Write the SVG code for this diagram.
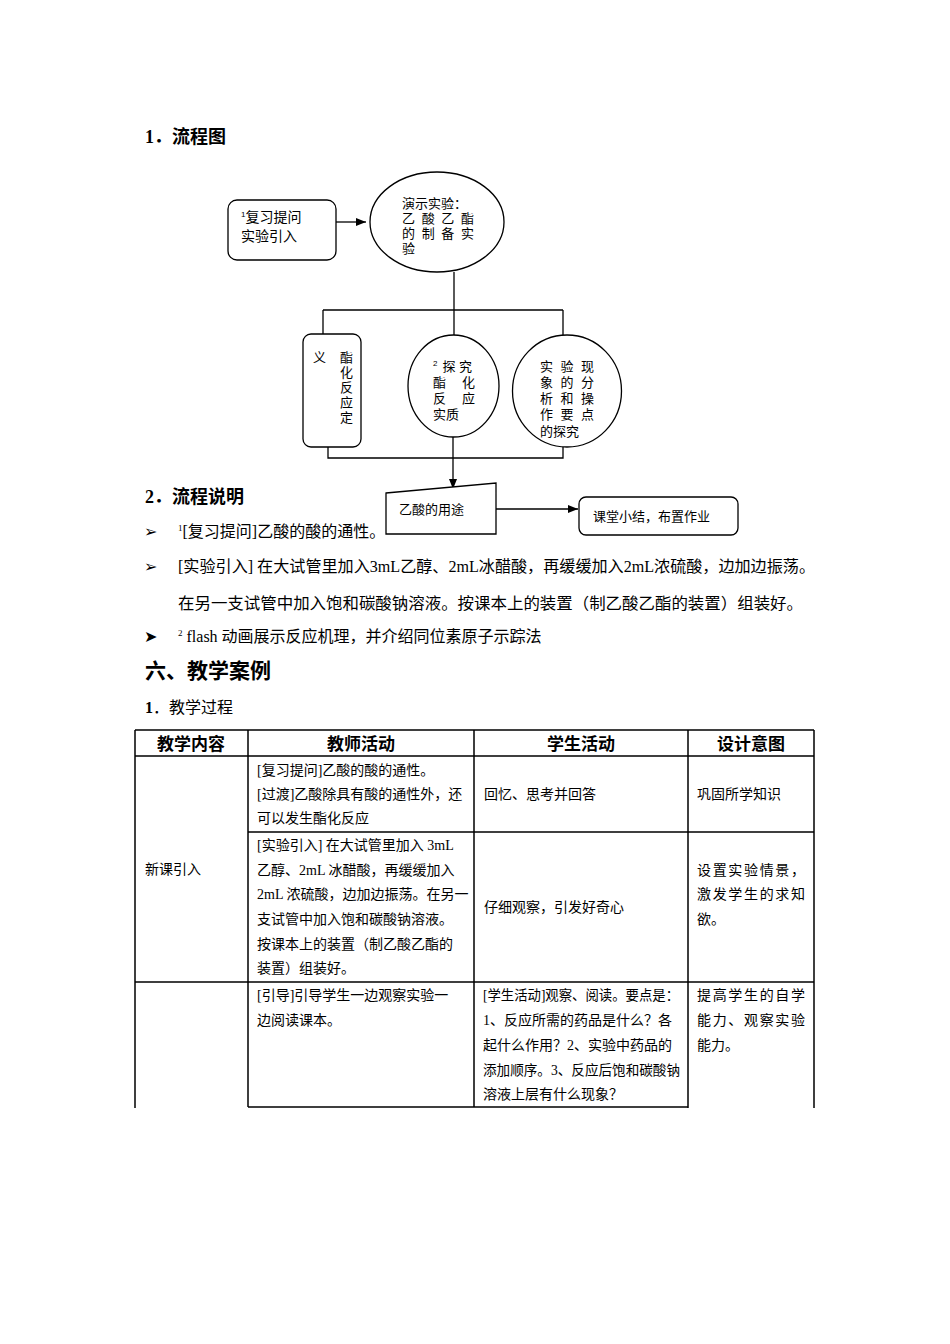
<svg xmlns="http://www.w3.org/2000/svg" width="950" height="1344" viewBox="0 0 950 1344">
<style>
.t{font-family:"Liberation Serif","Noto Sans CJK SC",serif;fill:#000}
.s{font-family:"Liberation Sans","Noto Sans CJK SC",sans-serif;fill:#000}
.b{font-weight:bold}
.f13{font-size:13px}
.f14{font-size:14px}
.f16{font-size:16px}
.shape{fill:#fff;stroke:#000;stroke-width:1.3}
.con{fill:none;stroke:#000;stroke-width:1.3}
.grid{stroke:#000;stroke-width:1.5;fill:none}
.bul{font-family:"DejaVu Sans",sans-serif;font-size:16px}
</style>
<defs>
<marker id="ah" markerWidth="10" markerHeight="8" refX="10" refY="4" orient="auto" markerUnits="userSpaceOnUse">
<path d="M0,0 L10,4 L0,8 Z" fill="#000"/>
</marker>
</defs>
<rect width="950" height="1344" fill="#fff"/>

<text class="t b" x="145" y="143" font-size="18">1．流程图</text>

<g id="connectors">
<path class="con" d="M336,222 H366" marker-end="url(#ah)"/>
<path class="con" d="M454,272 V336"/>
<path class="con" d="M323,310 H563"/>
<path class="con" d="M323,310 V334"/>
<path class="con" d="M563,310 V335"/>
<path class="con" d="M328,447 V458 H563 V447"/>
<path class="con" d="M453,437 V489" marker-end="url(#ah)"/>
<path class="con" d="M496,509 H578" marker-end="url(#ah)"/>
</g>

<g id="n1">
<rect class="shape" x="228" y="200" width="108" height="60" rx="9"/>
<text class="s f14" x="241" y="222"><tspan font-size="8" dy="-5">1</tspan><tspan dy="5">复习提问</tspan></text>
<text class="s f14" x="241" y="241">实验引入</text>
</g>

<g id="n2">
<ellipse class="shape" cx="437" cy="222" rx="67" ry="50"/>
<text class="s f13" x="402" y="208">演示实验：</text>
<text class="s f13" x="402" y="223" textLength="72" lengthAdjust="spacing">乙 酸 乙 酯</text>
<text class="s f13" x="402" y="238" textLength="72" lengthAdjust="spacing">的 制 备 实</text>
<text class="s f13" x="402" y="253">验</text>
</g>

<g id="n3">
<rect class="shape" x="303" y="334" width="58" height="113" rx="8"/>
<text class="s f13" x="313" y="362">义</text>
<text class="s f13" x="340" y="362">酯</text>
<text class="s f13" x="340" y="377">化</text>
<text class="s f13" x="340" y="392">反</text>
<text class="s f13" x="340" y="407">应</text>
<text class="s f13" x="340" y="422">定</text>
</g>

<g id="n4">
<ellipse class="shape" cx="453.5" cy="386" rx="45.5" ry="51"/>
<text class="s f13" x="433" y="371"><tspan font-size="8" dy="-5">2</tspan><tspan dy="5" dx="5">探  究</tspan></text>
<text class="s f13" x="433" y="387" textLength="42" lengthAdjust="spacing">酯  化</text>
<text class="s f13" x="433" y="403" textLength="42" lengthAdjust="spacing">反  应</text>
<text class="s f13" x="433" y="419">实质</text>
</g>

<g id="n5">
<ellipse class="shape" cx="567" cy="391" rx="54.5" ry="56"/>
<text class="s f13" x="540" y="371" textLength="54" lengthAdjust="spacing">实 验 现</text>
<text class="s f13" x="540" y="387" textLength="54" lengthAdjust="spacing">象 的 分</text>
<text class="s f13" x="540" y="403" textLength="54" lengthAdjust="spacing">析 和 操</text>
<text class="s f13" x="540" y="419" textLength="54" lengthAdjust="spacing">作 要 点</text>
<text class="s f13" x="540" y="436">的探究</text>
</g>

<text class="t b" x="145" y="503" font-size="18">2．流程说明</text>

<text class="bul" x="144" y="537">➢</text>
<text class="t f16" x="178" y="537"><tspan font-size="9" dy="-6">1</tspan><tspan dy="6">[复习提问]乙酸的酸的通性。</tspan></text>

<g id="n6">
<polygon class="shape" points="386,493 496,483 496,534 386,534"/>
<text class="s f13" x="399" y="514">乙酸的用途</text>
</g>

<g id="n7">
<rect class="shape" x="579" y="497" width="159" height="38" rx="7"/>
<text class="s f13" x="593" y="521">课堂小结，布置作业</text>
</g>

<text class="bul" x="144" y="572">➢</text>
<text class="t f16" x="178" y="572" textLength="637" lengthAdjust="spacingAndGlyphs">[实验引入] 在大试管里加入3mL乙醇、2mL冰醋酸，再缓缓加入2mL浓硫酸，边加边振荡。</text>
<text class="t f16" x="178" y="609" textLength="625" lengthAdjust="spacingAndGlyphs">在另一支试管中加入饱和碳酸钠溶液。按课本上的装置（制乙酸乙酯的装置）组装好。</text>
<text class="bul" x="144" y="642" font-size="17">➤</text>
<text class="t f16" x="178" y="642"><tspan font-size="9" dy="-6">2</tspan><tspan dy="6"> flash 动画展示反应机理，并介绍同位素原子示踪法</tspan></text>

<text class="t b" x="145" y="678" font-size="21">六、教学案例</text>
<text class="t f16" x="145" y="713"><tspan font-weight="bold">1</tspan>．教学过程</text>

<g id="table">
<path class="grid" d="M135,730 H814 M135,756 H814 M248,832 H814 M135,982 H814 M248,1107 H688"/>
<path class="grid" d="M135,730 V1108 M814,730 V1108 M248,730 V1107 M474,730 V1107 M688,730 V1108"/>
<g class="t b" font-size="17" text-anchor="middle">
<text x="191" y="750">教学内容</text>
<text x="361" y="750">教师活动</text>
<text x="581" y="750">学生活动</text>
<text x="751" y="750">设计意图</text>
</g>
<g class="t f14">
<text x="257" y="775">[复习提问]乙酸的酸的通性。</text>
<text x="257" y="799">[过渡]乙酸除具有酸的通性外，还</text>
<text x="257" y="823">可以发生酯化反应</text>
<text x="484" y="799">回忆、思考并回答</text>
<text x="697" y="799">巩固所学知识</text>

<text x="145" y="874">新课引入</text>
<text x="257" y="850">[实验引入] 在大试管里加入 3mL</text>
<text x="257" y="875">乙醇、2mL 冰醋酸，再缓缓加入</text>
<text x="257" y="899">2mL 浓硫酸，边加边振荡。在另一</text>
<text x="257" y="924">支试管中加入饱和碳酸钠溶液。</text>
<text x="257" y="949">按课本上的装置（制乙酸乙酯的</text>
<text x="257" y="973">装置）组装好。</text>
<text x="484" y="912">仔细观察，引发好奇心</text>
<text x="697" y="875" textLength="108" lengthAdjust="spacing">设置实验情景，</text>
<text x="697" y="899" textLength="108" lengthAdjust="spacing">激发学生的求知</text>
<text x="697" y="924">欲。</text>

<text x="257" y="1000">[引导]引导学生一边观察实验一</text>
<text x="257" y="1025">边阅读课本。</text>
<text x="483" y="1000" textLength="196" lengthAdjust="spacingAndGlyphs">[学生活动]观察、阅读。要点是：</text>
<text x="483" y="1025">1、反应所需的药品是什么？各</text>
<text x="483" y="1050">起什么作用？2、实验中药品的</text>
<text x="483" y="1075" textLength="197" lengthAdjust="spacingAndGlyphs">添加顺序。3、反应后饱和碳酸钠</text>
<text x="483" y="1099">溶液上层有什么现象？</text>
<text x="697" y="1000" textLength="108" lengthAdjust="spacing">提高学生的自学</text>
<text x="697" y="1025" textLength="108" lengthAdjust="spacing">能力、观察实验</text>
<text x="697" y="1050">能力。</text>
</g>
</g>
</svg>
